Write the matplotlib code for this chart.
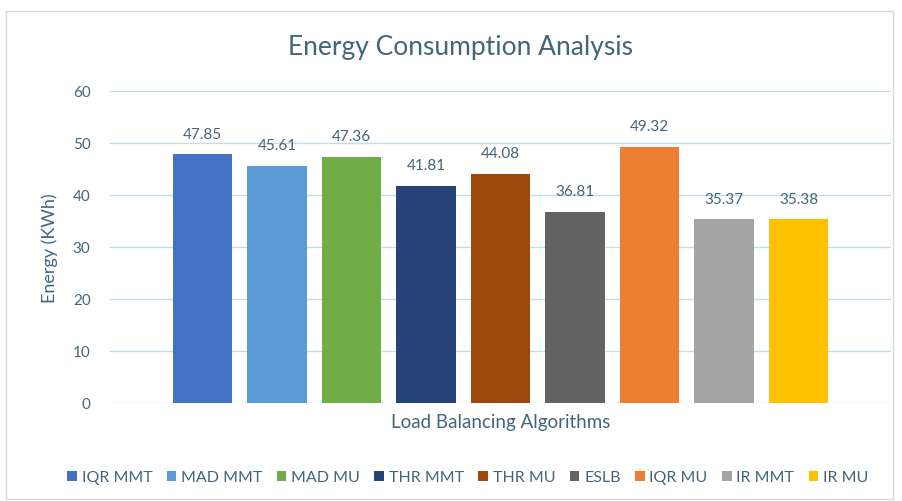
import matplotlib.pyplot as plt
from matplotlib.patches import Rectangle

algorithms = ["IQR MMT", "MAD MMT", "MAD MU", "THR MMT", "THR MU",
              "ESLB", "IQR MU", "IR MMT", "IR MU"]
energy = [47.85, 45.61, 47.36, 41.81, 44.08, 36.81, 49.32, 35.37, 35.38]
colors = ["#4472C4", "#5B9BD5", "#70AD47", "#264478", "#9E480E",
          "#636363", "#ED7D31", "#A5A5A5", "#FFC000"]
yticks = [0, 10, 20, 30, 40, 50, 60]

txt = "#42657A"
plt.rcParams['font.family'] = ['Lato', 'DejaVu Sans']

fig = plt.figure(figsize=(9.03, 5.02), dpi=100)
ax = fig.add_axes([110 / 903, 1 - 404 / 502, 781 / 903, 312 / 502])

# chart frame
fig.patches.append(Rectangle((6 / 903, 2 / 502), 887 / 903, 488 / 502,
                             transform=fig.transFigure, fill=False,
                             edgecolor="#D9D9D9", linewidth=1))

x = list(range(len(algorithms)))
bars = ax.bar(x, energy, width=0.8, color=colors, label=algorithms, zorder=3)
for xi, v in zip(x, energy):
    ax.text(xi, v + 2.6, f"{v:.2f}", ha="center", va="bottom",
            fontsize=11, color=txt)

ax.set_xlim(-1.24, 9.24)
ax.set_ylim(0, 60)
ax.set_yticks(yticks)
ax.set_xticks([])
ax.grid(axis="y", color="#C5DCEB", linewidth=1, zorder=0)
ax.tick_params(axis="y", length=0, labelsize=11, labelcolor=txt, pad=14)
for s in ax.spines.values():
    s.set_visible(False)

ax.set_ylabel("Energy (KWh)", fontsize=13, color=txt)
ax.yaxis.set_label_coords(-0.067, 0.5)
ax.set_xlabel("Load Balancing Algorithms", fontsize=13.5, color=txt, labelpad=7)
fig.text(0.51, 0.906, "Energy Consumption Analysis", ha="center", va="center",
         fontsize=19, color=txt)

leg = fig.legend(bars, algorithms, loc="center", bbox_to_anchor=(0.518, 0.047),
                 ncol=9, frameon=False, fontsize=11.5, handlelength=0.6,
                 handleheight=0.6, handletextpad=0.3, columnspacing=0.9)
for t in leg.get_texts():
    t.set_color(txt)

fig.savefig("out.png", dpi=100)
